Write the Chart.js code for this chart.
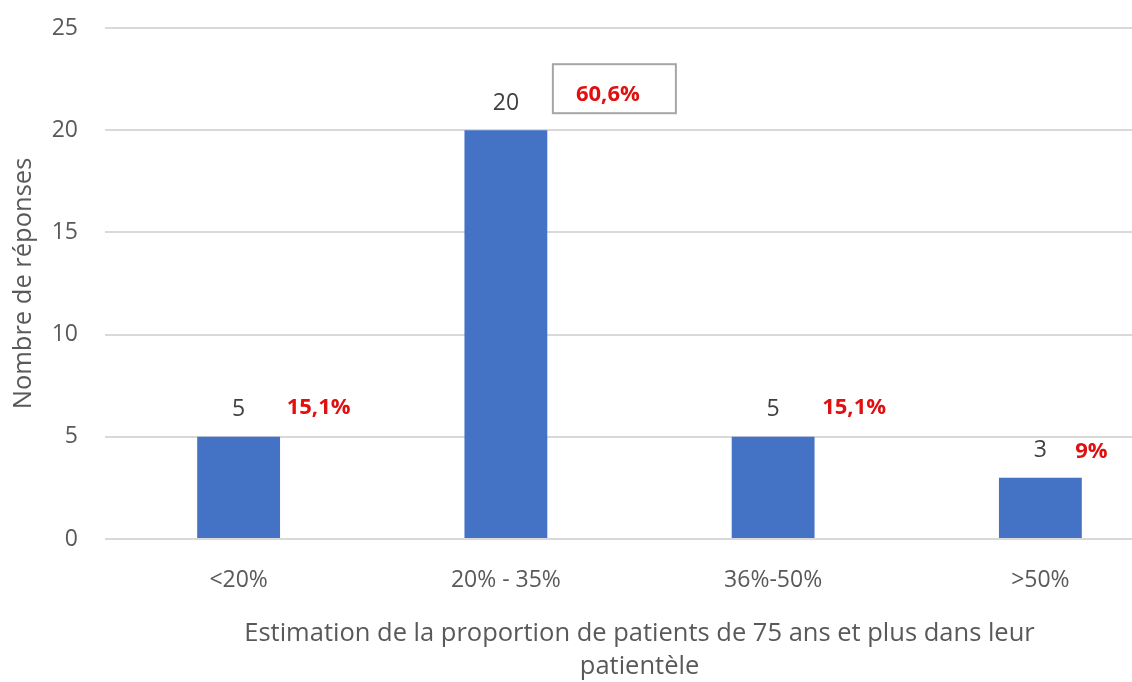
<!DOCTYPE html>
<html>
<head>
<meta charset="utf-8">
<script src="https://cdn.jsdelivr.net/npm/chart.js@4/dist/chart.umd.min.js"></script>
<style>
  html, body { margin: 0; padding: 0; background: #fff; overflow: hidden; }
  #wrap { width: 1180px; height: 682px; }
</style>
</head>
<body>
<div id="wrap"><canvas id="c" width="1180" height="682"></canvas></div>
<script>
"use strict";

// data
const categories = ["<20%", "20% - 35%", "36%-50%", ">50%"];
const counts = [5, 20, 5, 3];
const percentLabels = ["15,1%", "60,6%", "15,1%", "9%"];
const yTicks = [0, 5, 10, 15, 20, 25];

// where the red percent labels sit relative to the top of each bar
const pctOffsets = [{dx: 80, dy: -29}, {dx: 102, dy: -35}, {dx: 81, dy: -29}, {dx: 51, dy: -26}];
const boxedLabel = 1;

const FONT = "'Open Sans', sans-serif";

// draws the count above each bar and the red percent beside it
const barLabels = {
    id: "barLabels",
    afterDatasetsDraw(chart) {
        const ctx = chart.ctx;
        const meta = chart.getDatasetMeta(0);
        ctx.save();
        ctx.textAlign = "center";
        ctx.textBaseline = "middle";
        meta.data.forEach((bar, i) => {
            ctx.font = "23px " + FONT;
            ctx.fillStyle = "#404040";
            ctx.fillText(String(counts[i]), bar.x, bar.y - 27);

            const px = bar.x + pctOffsets[i].dx, py = bar.y + pctOffsets[i].dy;
            ctx.font = "bold 22px " + FONT;
            ctx.fillStyle = "#e01010";
            ctx.fillText(percentLabels[i], px, py);

            if (i === boxedLabel) {
                ctx.strokeStyle = "#a6a6a6";
                ctx.lineWidth = 2;
                ctx.strokeRect(px - 55, py - 31, 123, 49);
            }
        });
        ctx.restore();
    }
};

new Chart(document.getElementById("c"), {
    type: "bar",
    data: {
        labels: categories,
        datasets: [{
            label: "Nombre de réponses",
            data: counts,
            backgroundColor: "#4472c4",
            categoryPercentage: 1,
            barPercentage: 0.31
        }]
    },
    options: {
        responsive: false,
        animation: false,
        layout: { padding: { top: 28, right: 6, bottom: 0, left: 0 } },
        plugins: {
            legend: { display: false },
            tooltip: { enabled: false }
        },
        scales: {
            x: {
                grid: { display: false },
                border: { display: false },
                ticks: { color: "#595959", font: { family: FONT, size: 23 }, padding: 20 },
                title: {
                    display: true,
                    text: ["Estimation de la proportion de patients de 75 ans et plus dans leur", "patientèle"],
                    color: "#595959",
                    font: { family: FONT, size: 25.5, lineHeight: 1.29 },
                    padding: { top: 0, bottom: -1 }
                },
                afterFit(scale) { scale.height = 143; }
            },
            y: {
                min: 0,
                max: 25,
                afterBuildTicks(scale) { scale.ticks = yTicks.map(v => ({value: v})); },
                grid: { color: "#d9d9d9", lineWidth: 2, drawTicks: false },
                border: { display: false },
                ticks: { color: "#595959", font: { family: FONT, size: 23 }, padding: 27 },
                title: {
                    display: true,
                    text: "Nombre de réponses",
                    color: "#595959",
                    font: { family: FONT, size: 25.5 },
                    padding: { top: 8, bottom: 0 }
                },
                afterFit(scale) {
                    scale.width = 105;
                    // tick padding otherwise pushes the top of the plot down
                    scale.paddingTop = 0;
                    scale.paddingBottom = 0;
                }
            }
        }
    },
    plugins: [barLabels]
});
</script>
</body>
</html>
